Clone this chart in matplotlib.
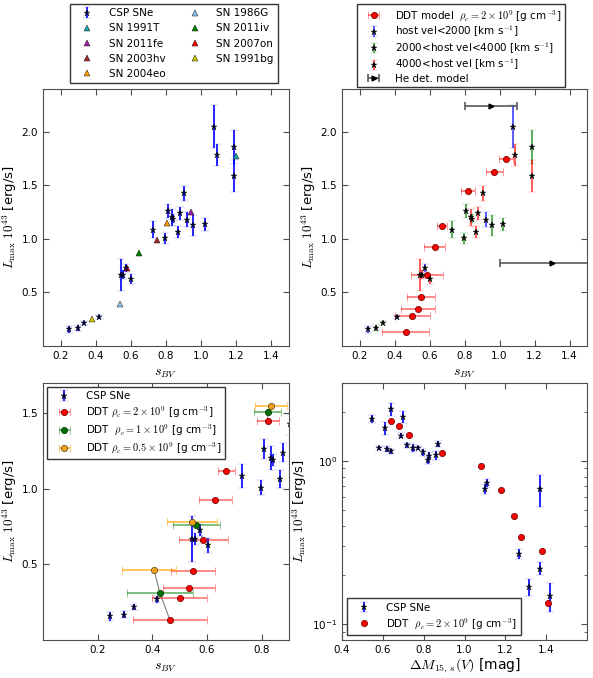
import matplotlib
matplotlib.use('Agg')
import matplotlib.pyplot as plt
import numpy as np

# CSP SNe: s_BV, Lmax (1e43 erg/s), error, host velocity class
csp_sbv = [0.246, 0.297, 0.334, 0.416, 0.546, 0.557, 0.575, 0.603, 0.727, 0.796, 0.810, 0.835,
           0.840, 0.867, 0.878, 0.903, 0.920, 0.956, 1.020, 1.075, 1.088, 1.185, 1.188]
csp_L = [0.156, 0.168, 0.218, 0.268, 0.667, 0.667, 0.730, 0.626, 1.087, 1.007, 1.265, 1.203,
         1.190, 1.065, 1.240, 1.427, 1.178, 1.128, 1.137, 2.047, 1.785, 1.857, 1.586]
csp_Lerr = [0.03, 0.025, 0.02, 0.02, 0.15, 0.04, 0.04, 0.05, 0.08, 0.05, 0.065, 0.08,
            0.04, 0.06, 0.06, 0.07, 0.07, 0.10, 0.06, 0.20, 0.10, 0.16, 0.15]
csp_vel = ['lo', 'mid', 'mid', 'lo', 'hi', 'hi', 'lo', 'hi', 'mid', 'mid', 'mid', 'hi',
           'mid', 'hi', 'hi', 'hi', 'lo', 'mid', 'mid', 'lo', 'hi', 'mid', 'hi']

# individual well-known SNe
sn_names = ['SN 1991T', 'SN 2011fe', 'SN 2003hv', 'SN 2004eo', 'SN 1986G', 'SN 2011iv', 'SN 2007on', 'SN 1991bg']
sn_sbv = [1.20, 0.943, 0.746, 0.807, 0.54, 0.648, 0.576, 0.38]
sn_L = [1.775, 1.25, 0.993, 1.147, 0.395, 0.866, 0.726, 0.255]
sn_colors = ['#1fa5a5', '#a020a0', '#a52a2a', '#ff9900', '#87c3f0', '#008000', '#ff0000', '#c8c800']

# DDT models rho_c = 2e9
ddt_sbv = [1.037, 0.970, 0.822, 0.671, 0.630, 0.586, 0.550, 0.534, 0.500, 0.464]
ddt_sbv_err = [0.042, 0.05, 0.04, 0.03, 0.06, 0.09, 0.08, 0.095, 0.10, 0.135]
ddt_L = [1.748, 1.629, 1.449, 1.119, 0.925, 0.664, 0.458, 0.343, 0.280, 0.134]
ddt_dm15 = [0.638, 0.678, 0.729, 0.890, 1.079, 1.178, 1.242, 1.279, 1.380, 1.408]

# DDT rho_c = 1e9 and 0.5e9 (matched to ddt index)
ddt1_sbv = [0.822, 0.561, 0.427]
ddt1_err = [0.05, 0.085, 0.12]
ddt1_L = [1.51, 0.76, 0.314]
ddt05_sbv = [0.834, 0.545, 0.406]
ddt05_err_lo = [0.057, 0.09, 0.116]
ddt05_err_hi = [0.057, 0.09, 0.08]
ddt05_L = [1.545, 0.778, 0.466]
ddt_match = [2, 5, 9]

# He detonation models
he_sbv = [0.95, 1.30]
he_err = [0.15, 0.30]
he_L = [2.24, 0.776]

# CSP in dm15 space
csp_dm15 = [0.548, 0.579, 0.610, 0.620, 0.639, 0.639, 0.690, 0.700, 0.719, 0.750, 0.770, 0.799,
            0.820, 0.828, 0.858, 0.869, 1.100, 1.110, 1.369, 1.268, 1.318, 1.369, 1.420]
csp_Ldm = [1.807, 1.203, 1.590, 1.176, 2.070, 1.148, 1.426, 1.867, 1.244, 1.197, 1.203, 1.131,
           1.010, 1.069, 1.084, 1.267, 0.676, 0.732, 0.672, 0.269, 0.169, 0.219, 0.149]
csp_Ldm_err = [0.10, 0.03, 0.15, 0.05, 0.18, 0.04, 0.05, 0.16, 0.05, 0.07, 0.03, 0.06,
               0.05, 0.06, 0.07, 0.05, 0.05, 0.04, 0.15, 0.02, 0.02, 0.02, 0.03]

plt.rcParams['mathtext.fontset'] = 'cm'
plt.rcParams['font.size'] = 7.5
plt.rcParams['axes.edgecolor'] = '0.3'
plt.rcParams['xtick.color'] = '0.3'
plt.rcParams['ytick.color'] = '0.3'
plt.rcParams['xtick.labelcolor'] = 'k'
plt.rcParams['ytick.labelcolor'] = 'k'
plt.rcParams['legend.fancybox'] = False
plt.rcParams['legend.edgecolor'] = '0.2'
plt.rcParams['legend.framealpha'] = 1
plt.rcParams['legend.fontsize'] = 7.5

fig = plt.figure(figsize=(5.93, 6.78), dpi=100)
W, H = 593.0, 678.0
def pos(l, t, r, b):
    return [l / W, 1 - b / H, (r - l) / W, (b - t) / H]

ax1 = fig.add_axes(pos(43, 89, 289, 346))
ax2 = fig.add_axes(pos(342, 89, 587, 346))
ax3 = fig.add_axes(pos(43, 383, 289, 640))
ax4 = fig.add_axes(pos(342, 383, 587, 640))

ylab = r'$L_{\rm max}\ 10^{43}$ [erg/s]'

def csp_err(ax, x, y, e, col, label=None):
    eb = ax.errorbar(x, y, yerr=e, fmt='*', color='#000040', mec='k', mew=0.3, ms=5,
                     ecolor=col, elinewidth=1.2, capsize=3, capthick=1.5, label=label)
    for c in eb[1]:
        c.set_alpha(0.45)
    return eb

def shade(c, a=0.5):
    return matplotlib.colors.to_rgba(c, a)

# ---- top left ----
hs = [csp_err(ax1, csp_sbv, csp_L, csp_Lerr, 'b')]
for n, x, y, c in zip(sn_names, sn_sbv, sn_L, sn_colors):
    h, = ax1.plot(x, y, '^', color=c, mec='k', mew=0.3, ms=4.5, linestyle='none')
    hs.append(h)
ax1.set_xlim(0.1, 1.5)
ax1.set_ylim(0, 2.4)
ax1.set_yticks([0.5, 1.0, 1.5, 2.0])
ax1.set_xlabel(r'$s_{BV}$', fontsize=10)
ax1.set_ylabel(ylab, fontsize=9.5, labelpad=2)
ax1.legend(hs, ['CSP SNe'] + sn_names, loc='upper center', bbox_to_anchor=(174 / W, 1 - 4 / H),
           bbox_transform=fig.transFigure, borderaxespad=0,
           ncol=2, numpoints=1, handlelength=2.5, columnspacing=1.6, labelspacing=0.5)

# ---- top right ----
h_ddt = ax2.errorbar(ddt_sbv, ddt_L, xerr=ddt_sbv_err, fmt='o', color='r', mec='#600000', mew=0.5, ms=4.5,
                     ecolor=shade('r', 0.55), elinewidth=1.2, capsize=3, capthick=1.2)
vel_cols = {'lo': 'b', 'mid': 'g', 'hi': 'r'}
handles = [h_ddt]
for key in ['lo', 'mid', 'hi']:
    idx = [i for i, v in enumerate(csp_vel) if v == key]
    eb = ax2.errorbar([csp_sbv[i] for i in idx], [csp_L[i] for i in idx], yerr=[csp_Lerr[i] for i in idx],
                      fmt='*', color='k', mec='k', mew=0.3, ms=5, ecolor=vel_cols[key],
                      elinewidth=1.2, capsize=3, capthick=1.5)
    for c in eb[1]:
        c.set_alpha(0.45)
    eb[2][0].set_alpha(0.75)
    handles.append(eb)
h_he = ax2.errorbar(he_sbv, he_L, xerr=he_err, fmt='>', color='k', ms=3.5, ecolor='0.35',
                    elinewidth=1.2, capsize=3, capthick=1.2)
handles.append(h_he)
ax2.set_xlim(0.1, 1.5)
ax2.set_ylim(0, 2.4)
ax2.set_yticks([0.5, 1.0, 1.5, 2.0])
ax2.set_xlabel(r'$s_{BV}$', fontsize=10)
ax2.set_ylabel(ylab, fontsize=9.5, labelpad=2)
ax2.legend(handles, [r'DDT model  $\rho_c = 2\times10^9$ [g cm$^{-3}$]',
                     r'host vel<2000 [km s$^{-1}$]',
                     r'2000<host vel<4000 [km s$^{-1}$]',
                     r'4000<host vel [km s$^{-1}$]',
                     'He det. model'],
           loc='upper center', bbox_to_anchor=(461 / W, 1 - 4 / H), bbox_transform=fig.transFigure,
           borderaxespad=0, numpoints=1, handlelength=2.5, labelspacing=0.12, borderpad=0.35)

# ---- bottom left ----
for j, k in enumerate(ddt_match):
    ax3.plot([ddt05_sbv[j], ddt1_sbv[j], ddt_sbv[k]], [ddt05_L[j], ddt1_L[j], ddt_L[k]],
             '-', color='0.5', lw=0.8, zorder=1)
h0 = csp_err(ax3, csp_sbv, csp_L, csp_Lerr, 'b')
h1 = ax3.errorbar(ddt_sbv, ddt_L, xerr=ddt_sbv_err, fmt='o', color='r', mec='#600000', mew=0.5, ms=4.5,
                  ecolor=shade('r', 0.55), elinewidth=1.2, capsize=3, capthick=1.2)
h2 = ax3.errorbar(ddt1_sbv, ddt1_L, xerr=ddt1_err, fmt='o', color='#007000', mec='#003000', mew=0.5, ms=4.5,
                  ecolor=shade('g', 0.6), elinewidth=1.2, capsize=3, capthick=1.2)
h3 = ax3.errorbar(ddt05_sbv, ddt05_L, xerr=[ddt05_err_lo, ddt05_err_hi], fmt='o', color='#f0a020',
                  mec='#604000', mew=0.5, ms=4.5, ecolor=shade('orange', 0.75), elinewidth=1.2,
                  capsize=3, capthick=1.2)
ax3.set_xlim(0, 0.9)
ax3.set_ylim(0, 1.7)
ax3.set_xticks([0.2, 0.4, 0.6, 0.8])
ax3.set_yticks([0.5, 1.0, 1.5])
ax3.set_xlabel(r'$s_{BV}$', fontsize=10)
ax3.set_ylabel(ylab, fontsize=9.5, labelpad=2)
ax3.legend([h0, h1, h2, h3], ['CSP SNe',
                              r'DDT $\rho_c = 2\times10^9$ [g cm$^{-3}$]',
                              r'DDT  $\rho_c = 1\times10^9$ [g cm$^{-3}$]',
                              r'DDT $\rho_c = 0.5\times10^9$ [g cm$^{-3}$]'],
           loc='upper left', numpoints=1, handlelength=2.5, labelspacing=0.3, borderaxespad=0.4)

# ---- bottom right ----
g0 = csp_err(ax4, csp_dm15, csp_Ldm, csp_Ldm_err, 'b')
g1, = ax4.plot(ddt_dm15, ddt_L, 'o', color='r', mec='#600000', mew=0.5, ms=4.5, linestyle='none')
ax4.set_yscale('log')
ax4.set_xlim(0.4, 1.6)
ax4.set_ylim(0.08, 3.0)
ax4.set_xticks([0.4, 0.6, 0.8, 1.0, 1.2, 1.4])
ax4.set_xlabel(r'$\Delta M_{15,\,s}(V)$ [mag]', fontsize=10, labelpad=1)
ax4.set_ylabel(ylab, fontsize=9.5, labelpad=2)
ax4.legend([g0, g1], ['CSP SNe', r'DDT  $\rho_c = 2\times10^9$ [g cm$^{-3}$]'],
           loc='lower left', numpoints=1, handlelength=2.5, labelspacing=0.3)

for ax in [ax1, ax2, ax3, ax4]:
    ax.tick_params(which='both', direction='in', top=True, right=True)
    ax.tick_params(which='major', length=4)
    ax.tick_params(which='minor', length=2)

fig.savefig('out.png', dpi=100)
